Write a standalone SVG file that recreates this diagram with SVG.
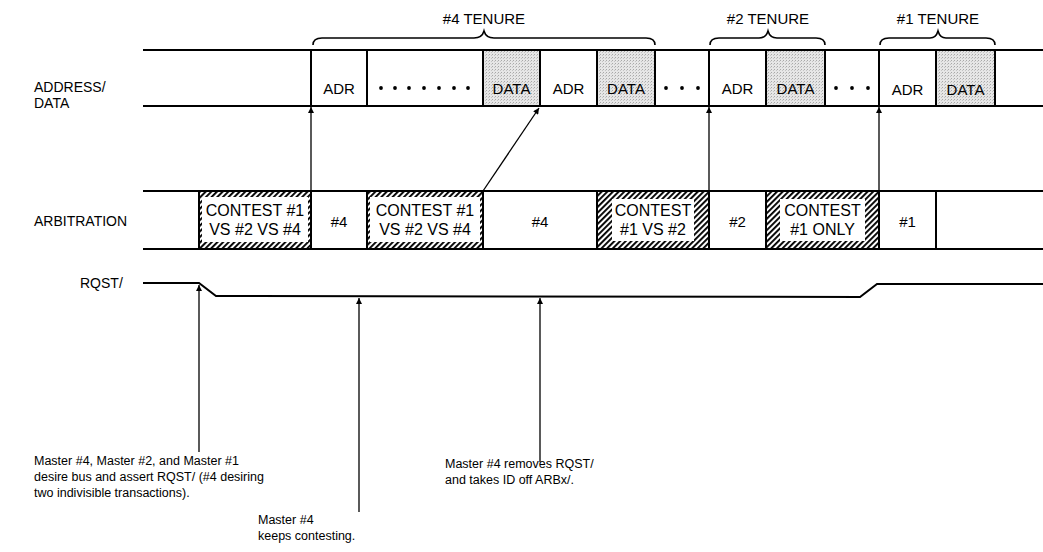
<svg xmlns="http://www.w3.org/2000/svg" width="1043" height="552" viewBox="0 0 1043 552">
<defs>
<pattern id="hatch" width="4" height="4" patternUnits="userSpaceOnUse" patternTransform="rotate(45)">
<rect width="4" height="4" fill="#fff"/>
<rect x="0" y="0" width="1.9" height="4" fill="#000"/>
</pattern>
<pattern id="stipple" width="3" height="3" patternUnits="userSpaceOnUse">
<rect width="3" height="3" fill="#e6e6e6"/>
<rect x="0" y="0" width="1" height="1" fill="#a8a8a8"/>
<rect x="2" y="1" width="1" height="1" fill="#c4c4c4"/>
</pattern>
<marker id="ah" viewBox="0 0 10 10" refX="10" refY="5" markerWidth="10" markerHeight="6" markerUnits="userSpaceOnUse" orient="auto">
<path d="M0,0 L10,5 L0,10 Z" fill="#000"/>
</marker>
<style>
text{font-family:"Liberation Sans",Arial,sans-serif;fill:#000}
.lbl{font-size:14px}
.ten{font-size:15px;text-anchor:middle}
.cell{font-size:15px;text-anchor:middle}
.ct{font-size:16px;text-anchor:middle}
.note{font-size:12.5px}
.bus{stroke:#000;stroke-width:2;fill:none}
.div{stroke:#000;stroke-width:2}
.arr{stroke:#000;stroke-width:1.3;fill:none;marker-end:url(#ah)}
.brace{stroke:#000;stroke-width:1.6;fill:none}
.shade{fill:url(#stipple)}
.hat{fill:url(#hatch)}
.dot{fill:#000}
</style>
</defs>
<rect width="1043" height="552" fill="#fff"/>

<g id="labels">
<text class="lbl" x="34" y="92">ADDRESS/</text>
<text class="lbl" x="34" y="108">DATA</text>
<text class="lbl" x="34" y="226">ARBITRATION</text>
<text class="lbl" x="80" y="288">RQST/</text>
</g>

<g id="tenures">
<path class="brace" d="M313,45 Q313,38 322,38 L474,38 Q482,38 484,31 Q486,38 494,38 L646,38 Q655,38 655,45"/>
<text class="ten" x="484" y="24">#4 TENURE</text>
<path class="brace" d="M710,45 Q710,38 719,38 L759,38 Q766,38 768,31 Q770,38 777,38 L816,38 Q825,38 825,45"/>
<text class="ten" x="768" y="24">#2 TENURE</text>
<path class="brace" d="M880,45 Q880,38 889,38 L930,38 Q936,38 938,31 Q940,38 946,38 L986,38 Q995,38 995,45"/>
<text class="ten" x="938" y="24">#1 TENURE</text>
</g>

<g id="address-data">
<rect class="shade" x="483" y="50" width="57" height="56"/>
<rect class="shade" x="597" y="50" width="58" height="56"/>
<rect class="shade" x="766" y="50" width="59" height="56"/>
<rect class="shade" x="936" y="50" width="59" height="56"/>
<line class="bus" x1="143" y1="50" x2="1043" y2="50"/>
<line class="bus" x1="143" y1="106" x2="1043" y2="106"/>
<line class="div" x1="311" y1="50" x2="311" y2="106"/>
<line class="div" x1="367" y1="50" x2="367" y2="106"/>
<line class="div" x1="483" y1="50" x2="483" y2="106"/>
<line class="div" x1="540" y1="50" x2="540" y2="106"/>
<line class="div" x1="597" y1="50" x2="597" y2="106"/>
<line class="div" x1="655" y1="50" x2="655" y2="106"/>
<line class="div" x1="709" y1="50" x2="709" y2="106"/>
<line class="div" x1="766" y1="50" x2="766" y2="106"/>
<line class="div" x1="825" y1="50" x2="825" y2="106"/>
<line class="div" x1="879" y1="50" x2="879" y2="106"/>
<line class="div" x1="936" y1="50" x2="936" y2="106"/>
<line class="div" x1="995" y1="50" x2="995" y2="106"/>
<text class="cell" x="339" y="94">ADR</text>
<g class="dot">
<circle cx="381" cy="88" r="1.9"/><circle cx="395" cy="88" r="1.9"/><circle cx="409" cy="88" r="1.9"/><circle cx="424" cy="88" r="1.9"/><circle cx="439" cy="88" r="1.9"/><circle cx="454" cy="88" r="1.9"/><circle cx="468" cy="88" r="1.9"/>
<circle cx="666" cy="88" r="1.9"/><circle cx="682" cy="88" r="1.9"/><circle cx="698" cy="88" r="1.9"/>
<circle cx="836" cy="88" r="1.9"/><circle cx="852" cy="88" r="1.9"/><circle cx="868" cy="88" r="1.9"/>
</g>
<text class="cell" x="511.5" y="94">DATA</text>
<text class="cell" x="568.5" y="94">ADR</text>
<text class="cell" x="626" y="94">DATA</text>
<text class="cell" x="737.5" y="94">ADR</text>
<text class="cell" x="795.5" y="94">DATA</text>
<text class="cell" x="907.5" y="95">ADR</text>
<text class="cell" x="965.5" y="95">DATA</text>
</g>

<g id="arbitration">
<rect class="hat" x="199" y="191" width="112" height="58"/>
<rect x="202" y="197" width="106" height="45" fill="#fff"/>
<rect class="hat" x="367" y="191" width="116" height="58"/>
<rect x="370" y="197" width="110" height="45" fill="#fff"/>
<rect class="hat" x="597" y="191" width="112" height="58"/>
<rect x="612" y="199" width="82" height="42" fill="#fff"/>
<rect class="hat" x="766" y="191" width="113" height="58"/>
<rect x="780" y="199" width="85" height="42" fill="#fff"/>
<line class="bus" x1="143" y1="191" x2="1043" y2="191"/>
<line class="bus" x1="143" y1="249" x2="1043" y2="249"/>
<line class="div" x1="199" y1="191" x2="199" y2="249"/>
<line class="div" x1="311" y1="191" x2="311" y2="249"/>
<line class="div" x1="367" y1="191" x2="367" y2="249"/>
<line class="div" x1="483" y1="191" x2="483" y2="249"/>
<line class="div" x1="597" y1="191" x2="597" y2="249"/>
<line class="div" x1="709" y1="191" x2="709" y2="249"/>
<line class="div" x1="766" y1="191" x2="766" y2="249"/>
<line class="div" x1="879" y1="191" x2="879" y2="249"/>
<line class="div" x1="936" y1="191" x2="936" y2="249"/>
<text class="ct" x="255" y="216">CONTEST #1</text>
<text class="ct" x="255" y="235">VS #2 VS #4</text>
<text class="cell" x="339" y="227">#4</text>
<text class="ct" x="425" y="216">CONTEST #1</text>
<text class="ct" x="425" y="235">VS #2 VS #4</text>
<text class="cell" x="540" y="227">#4</text>
<text class="ct" x="653" y="216">CONTEST</text>
<text class="ct" x="653" y="235">#1 VS #2</text>
<text class="cell" x="737.5" y="227">#2</text>
<text class="ct" x="822.5" y="216">CONTEST</text>
<text class="ct" x="822.5" y="235">#1 ONLY</text>
<text class="cell" x="907.5" y="227">#1</text>
</g>

<g id="rqst">
<polyline class="bus" points="143,283 199,283 216,296 860,297 877,284 1043,284"/>
</g>

<g id="notes">
<text class="note" x="34" y="465">Master #4, Master #2, and Master #1</text>
<text class="note" x="34" y="481">desire bus and assert RQST/ (#4 desiring</text>
<text class="note" x="34" y="497">two indivisible transactions).</text>
<text class="note" x="258" y="524">Master #4</text>
<text class="note" x="258" y="540">keeps contesting.</text>
<text class="note" x="445" y="468">Master #4 removes RQST/</text>
<text class="note" x="445" y="484">and takes ID off ARBx/.</text>
</g>

<g id="connectors">
<line class="arr" x1="311" y1="191" x2="311" y2="107"/>
<line class="arr" x1="483" y1="191" x2="539" y2="108"/>
<line class="arr" x1="709" y1="191" x2="709" y2="107"/>
<line class="arr" x1="879" y1="191" x2="879" y2="107"/>
<line class="arr" x1="199" y1="452" x2="199" y2="285"/>
<line class="arr" x1="359" y1="512" x2="359" y2="298"/>
<line class="arr" x1="540" y1="462" x2="540" y2="298"/>
</g>
</svg>
